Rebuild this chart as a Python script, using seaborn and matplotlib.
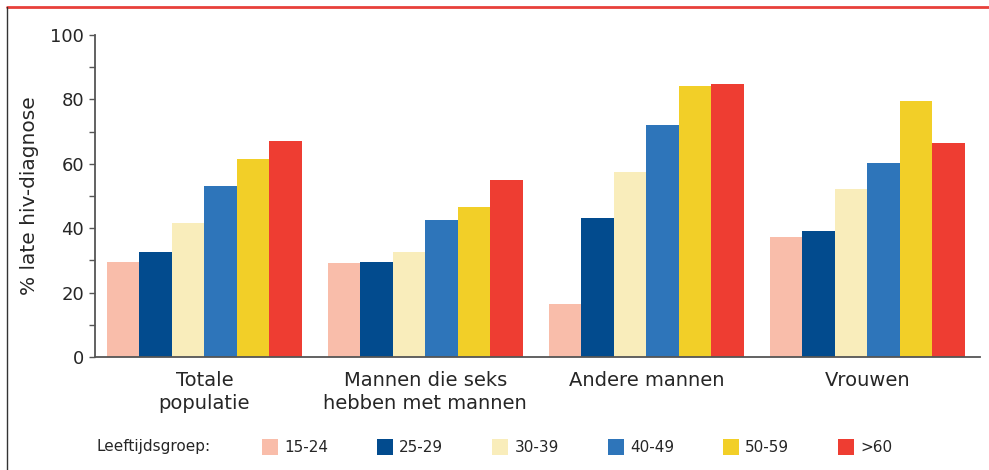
import numpy as np
import pandas as pd
import matplotlib
matplotlib.use("Agg")
import matplotlib.pyplot as plt
from matplotlib.lines import Line2D
import seaborn as sns

groups = ["Totale\npopulatie", "Mannen die seks\nhebben met mannen", "Andere mannen", "Vrouwen"]
age_groups = ["15-24", "25-29", "30-39", "40-49", "50-59", ">60"]
totale = [29.5, 32.6, 41.6, 53.1, 61.5, 67.1]
msm = [29.2, 29.5, 32.6, 42.5, 46.6, 55.0]
andere = [16.5, 43.2, 57.5, 72.0, 84.2, 84.8]
vrouwen = [37.3, 39.1, 52.2, 60.2, 79.5, 66.5]
colors = ["#F9BDAA", "#024B8E", "#F9EDBB", "#2E75BA", "#F2CF28", "#EE3D32"]
yticks = [0, 20, 40, 60, 80, 100]

rows = []
for g, vals in zip(groups, [totale, msm, andere, vrouwen]):
    for a, v in zip(age_groups, vals):
        rows.append({"groep": g, "leeftijd": a, "pct": v})
df = pd.DataFrame(rows)

sns.set_theme(style="white")
plt.rcParams["font.family"] = ["DejaVu Sans"]
txt = "#262626"

fig = plt.figure(figsize=(9.89, 4.70), dpi=100)
ax = fig.add_axes([95 / 989, 1 - 357 / 470, (980 - 95) / 989, (357 - 35) / 470])

sns.barplot(data=df, x="groep", y="pct", hue="leeftijd", order=groups,
            hue_order=age_groups, palette=colors, width=0.882, gap=0,
            saturation=1, ax=ax, errorbar=None, linewidth=0, edgecolor="none")

handles, labels = ax.get_legend_handles_labels()
if ax.get_legend() is not None:
    ax.get_legend().remove()

ax.set_ylim(0, 100)
ax.set_xlim(-0.495, 3.51)
ax.set_yticks(yticks)
ax.set_yticks([10, 30, 50, 70, 90], minor=True)
ax.set_xlabel("")
ax.set_ylabel("% late hiv-diagnose", fontsize=14.5, color=txt, labelpad=8)

for s in ["top", "right"]:
    ax.spines[s].set_visible(False)
for s in ["left", "bottom"]:
    ax.spines[s].set_color("#555555")
    ax.spines[s].set_linewidth(1.3)

ax.tick_params(axis="y", which="both", direction="out", left=True, length=4,
               width=1, color="#555555", labelsize=13, labelcolor=txt, pad=4)
ax.tick_params(axis="x", length=0, pad=10, labelsize=14, labelcolor=txt)
for lbl in ax.get_xticklabels():
    lbl.set_linespacing(1.3)

ax.legend(handles, labels, loc="center left", bbox_to_anchor=(262 / 989, 1 - 447 / 470),
          bbox_transform=fig.transFigure, ncol=6, frameon=False, fontsize=11,
          handlelength=1.05, handleheight=1.25, handletextpad=0.4,
          columnspacing=3.2, borderpad=0, borderaxespad=0, labelcolor=txt)
fig.text(96 / 989, 1 - 447 / 470, "Leeftijdsgroep:", fontsize=11, color=txt,
         ha="left", va="center")

fig.add_artist(Line2D([7 / 989, 1], [1 - 7 / 470] * 2, color="#E8403A", lw=2))
fig.add_artist(Line2D([7 / 989] * 2, [0, 1 - 7 / 470], color="#333333", lw=1))

fig.savefig("out.png", dpi=100)
